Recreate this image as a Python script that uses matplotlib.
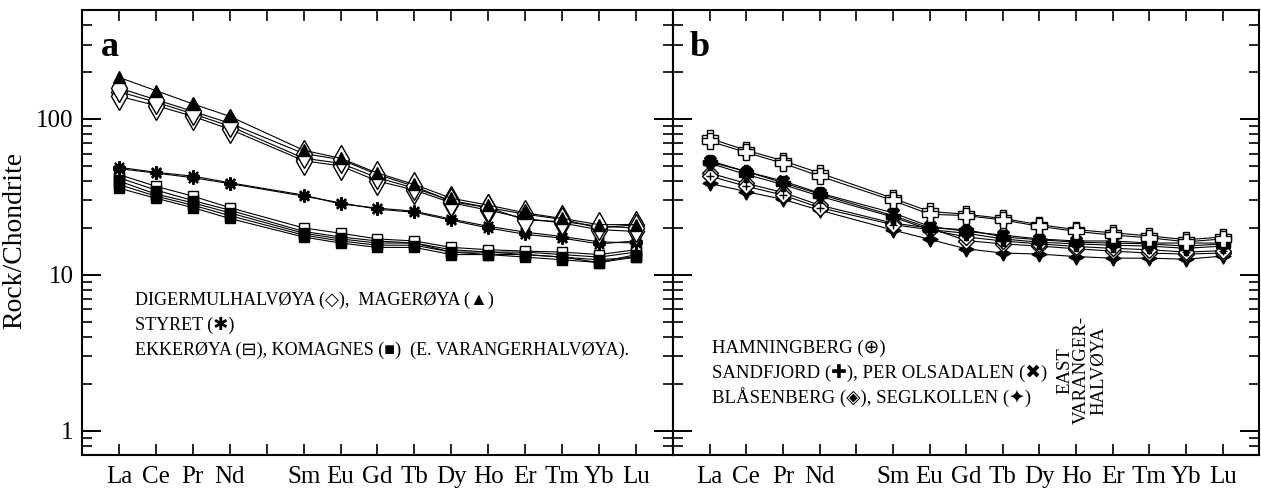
import matplotlib.pyplot as plt
from matplotlib.ticker import LogLocator, NullFormatter, FixedLocator, FixedFormatter

# --- fonts ---
plt.rcParams['font.family'] = ['Liberation Serif', 'DejaVu Sans']

# --- data: REE normalised to chondrite ---
ree_ticks = ['La', 'Ce', 'Pr', 'Nd', '', 'Sm', 'Eu', 'Gd', 'Tb', 'Dy', 'Ho', 'Er', 'Tm', 'Yb', 'Lu']
x = [i for i, el in enumerate(ree_ticks) if el]   # Pm left out
y_ticks = [1, 10, 100]
y_tick_labels = ['1', '10', '100']

# panel a
mageroya = [185, 152, 125, 104, 63, 56, 45, 38, 31, 28, 25, 23, 21, 21]
digermul_1 = [150, 128, 108, 90, 56, 52, 42, 36, 30, 27, 24.5, 22.7, 20, 21]
digermul_2 = [140, 122, 104, 86, 54, 50, 40, 35, 29, 26, 23, 21.5, 19.5, 19]
digermul_3 = [158, 133, 112, 94, 60, 55, 44, 37, 29.5, 27, 22.5, 22, 20.5, 20]
styret_1 = [48, 45, 42, 38.5, 32, 29, 26.4, 25.2, 22.4, 20, 18.2, 17.2, 15.8, 16.5]
styret_2 = [49, 45.5, 43, 39, 32.5, 28.5, 26.8, 25.6, 22.8, 20.5, 18.8, 17.6, 16.3, 16]
ekkeroya = [44, 37, 32, 27, 20, 18.5, 17, 16.5, 15, 14.5, 14.2, 14, 13.5, 14.5]
komagnes_1 = [40, 33, 29, 25, 18.5, 17, 16, 16, 14, 14, 13.5, 13, 12.5, 13]
komagnes_2 = [38, 32, 28, 24, 18, 16.5, 15.5, 15.5, 14, 13.5, 13.5, 13, 12, 13.5]
komagnes_3 = [36, 31, 27, 23, 17.5, 16, 15, 15, 13.5, 13.5, 13, 12.5, 12, 13]
komagnes_4 = [42, 35, 30, 26, 19, 17.5, 16.5, 16, 14.5, 14, 14, 13.5, 13, 14]

# panel b
hamningberg_1 = [75, 63, 54, 45, 31, 25.5, 24.5, 23, 21, 19.5, 18.6, 17.8, 16.8, 17.5]
hamningberg_2 = [72, 61, 52, 43, 30, 24.5, 24, 22.5, 20.5, 19, 18, 17.3, 16.3, 17]
sandfjord_1 = [53, 46, 39, 33, 24, 20, 19.5, 17.5, 16.8, 16.2, 16, 15.8, 15.3, 15.8]
sandfjord_2 = [52, 44, 38, 32, 23.5, 19.5, 18.5, 17, 16.2, 15.8, 15.5, 15.3, 14.8, 15.3]
per_olsadalen = [54, 46, 40, 33.5, 25, 20.5, 19, 18, 17, 16.5, 16.5, 16, 16, 16]
blasenberg_1 = [45, 38.6, 33.8, 28, 21.5, 20, 16.6, 15.8, 15.3, 14.7, 14.2, 13.8, 13.6, 13.8]
blasenberg_2 = [43, 37, 32.5, 27, 21, 19.5, 17.5, 16.5, 15.8, 15.2, 14.8, 14.5, 14, 14.3]
seglkollen = [38.6, 34.2, 30.5, 26, 19.4, 16.9, 14.7, 13.8, 13.6, 13.1, 12.8, 12.8, 12.6, 13.2]

# --- figure ---
fig = plt.figure(figsize=(12.61, 5.01), dpi=100)
ax_a = fig.add_axes([0.065, 0.092, 0.4687, 0.888])
ax_b = fig.add_axes([0.5337, 0.092, 0.465, 0.888])

line_kw = dict(color='black', lw=0.8)


def style_axis(ax, show_ylabels):
    ax.set_yscale('log')
    ax.set_ylim(0.7, 500)
    ax.set_xlim(-1, 15)
    ax.xaxis.set_major_locator(FixedLocator(range(len(ree_ticks))))
    ax.set_xticklabels(ree_ticks, fontsize=18)
    ax.yaxis.set_major_locator(FixedLocator(y_ticks))
    ax.yaxis.set_major_formatter(FixedFormatter(y_tick_labels))
    ax.yaxis.set_minor_locator(LogLocator(base=10, subs=range(2, 10), numticks=10))
    ax.yaxis.set_minor_formatter(NullFormatter())
    ax.tick_params(axis='x', direction='in', top=True, length=8, width=1.2, pad=8)
    ax.tick_params(axis='y', which='major', direction='in', left=True, right=True,
                   length=14, width=1.4, labelsize=18, pad=6)
    ax.tick_params(axis='y', which='minor', direction='in', left=True, right=True,
                   length=7, width=1.2)
    if not show_ylabels:
        ax.tick_params(axis='y', labelleft=False)
    for sp in ax.spines.values():
        sp.set_linewidth(1.5)


# --- panel a ---
ax = ax_a
for s in (komagnes_1, komagnes_2, komagnes_3, komagnes_4):
    ax.plot(x, s, marker='s', ms=7, mfc='black', mec='black', **line_kw)
ax.plot(x, ekkeroya, marker='s', ms=7, mfc='black', mec='black', fillstyle='bottom',
        markerfacecoloralt='white', **line_kw)
for s in (styret_1, styret_2):
    ax.plot(x, s, marker=(8, 2, 0), ms=9, mew=1.5, mec='black', **line_kw)
for s in (digermul_1, digermul_2, digermul_3):
    ax.plot(x, s, marker='d', ms=14, mfc='white', mec='black', mew=1.0, **line_kw)
ax.plot(x, mageroya, marker='^', ms=8, mfc='black', mec='black', **line_kw)

style_axis(ax, True)
ax.set_ylabel('Rock/Chondrite', fontsize=20)
ax.yaxis.set_label_coords(-0.092, 0.483)
ax.text(0.047, 0.915, 'a', transform=ax.transAxes, fontsize=26, fontweight='bold',
        ha='center', va='center')
txt_kw = dict(transform=ax.transAxes, fontsize=13, ha='left', va='center')
ax.text(0.09, 0.348, 'DIGERMULHALVØYA (◇),  MAGERØYA (▲)', **txt_kw)
ax.text(0.09, 0.292, 'STYRET (✱)', **txt_kw)
ax.text(0.09, 0.236, 'EKKERØYA (⊟), KOMAGNES (■)  (E. VARANGERHALVØYA).', **txt_kw)

# --- panel b ---
ax = ax_b
ax.plot(x, seglkollen, marker=(4, 1, 0), ms=11, mfc='black', mec='black', **line_kw)
for s in (blasenberg_1, blasenberg_2):
    ax.plot(x, s, marker='D', ms=8, mfc='white', mec='black', **line_kw)
    ax.plot(x, s, ls='none', marker='+', ms=6, mec='black', mew=1.0)
for s in (sandfjord_1, sandfjord_2):
    ax.plot(x, s, marker='P', ms=10, mfc='black', mec='black', **line_kw)
ax.plot(x, per_olsadalen, marker='X', ms=9, mfc='black', mec='black', **line_kw)
for s in (hamningberg_1, hamningberg_2):
    ax.plot(x, s, marker='P', ms=12, mfc='white', mec='black', mew=1.0, **line_kw)

style_axis(ax, False)
ax.text(0.046, 0.915, 'b', transform=ax.transAxes, fontsize=26, fontweight='bold',
        ha='center', va='center')
txt_kw = dict(transform=ax.transAxes, fontsize=13.5, ha='left', va='center')
ax.text(0.066, 0.240, 'HAMNINGBERG (⊕)', **txt_kw)
ax.text(0.066, 0.184, 'SANDFJORD (✚), PER OLSADALEN (✖)', **txt_kw)
ax.text(0.066, 0.130, 'BLÅSENBERG (◈), SEGLKOLLEN (✦)', **txt_kw)
ax.text(0.697, 0.19, 'EAST\nVARANGER-\nHALVØYA', transform=ax.transAxes,
        fontsize=13.5, rotation=90, ha='center', va='center', multialignment='center',
        linespacing=1.0)

fig.savefig('out.png', dpi=100)
